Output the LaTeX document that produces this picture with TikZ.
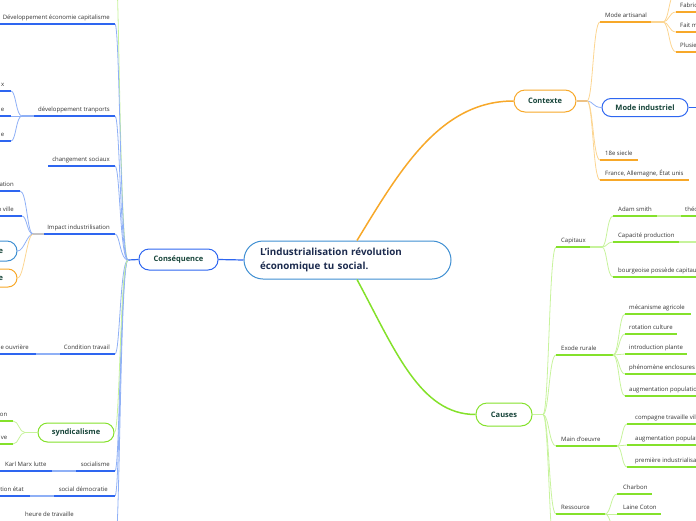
\documentclass[tikz,border=0pt]{standalone}
\usepackage{fontspec}
\setmainfont{Open Sans}
\usetikzlibrary{calc}
\definecolor{blueD}{HTML}{2E66F0}
\definecolor{blueL}{HTML}{8FB0F6}
\definecolor{blueC}{HTML}{3F8FD2}
\definecolor{oraD}{HTML}{F7A829}
\definecolor{oraL}{HTML}{FCD591}
\definecolor{greD}{HTML}{84E12B}
\definecolor{greL}{HTML}{C7F39C}
\definecolor{txt}{HTML}{333333}
\definecolor{ntext}{HTML}{17453A}
\definecolor{rtext}{HTML}{1C2B4E}
\tikzset{
 leaf/.style={font=\fontsize{6}{7}\selectfont, text=txt, inner sep=0pt},
 mnode/.style={draw=#1, line width=1pt, fill=white, font=\bfseries\fontsize{7.5}{9}\selectfont, text=ntext, inner sep=0pt},
 ulB/.style={draw=blueD, line width=1.6pt},
 ulO/.style={draw=oraD, line width=1.6pt},
 ulG/.style={draw=greD, line width=1.6pt},
 cB/.style={draw=blueL, line width=0.8pt},
 cO/.style={draw=oraL, line width=0.8pt},
 cG/.style={draw=greL, line width=0.8pt},
 lB/.style={draw=blueL, line width=1.2pt},
 lO/.style={draw=oraL, line width=1.2pt},
 lG/.style={draw=greL, line width=1.2pt},
}
\begin{document}
\begin{tikzpicture}[x=1pt,y=-1pt]
\useasboundingbox (0,0) rectangle (696,520);
\clip (0,0) rectangle (696,520);

% ---------- main nodes ----------
\node[draw=blueC, line width=1pt, fill=white, rounded corners=19pt, text width=175pt, align=left,
      inner xsep=16pt, inner ysep=0pt, minimum height=38pt, text=rtext,
      font=\bfseries\fontsize{9.8}{14.5}\selectfont] (root) at (347.5,260) {L'industrialisation révolution\\économique tu social.};
\node[mnode=blueD, rounded corners=10pt, minimum width=79pt, minimum height=21pt] (cons) at (178.5,259.5) {Conséquence};
\node[mnode=oraD, rounded corners=11pt, minimum width=62pt, minimum height=22pt] (ctx) at (545,101) {Contexte};
\node[mnode=greD, rounded corners=11pt, minimum width=56pt, minimum height=23pt] (cau) at (504,414.5) {Causes};

% main connectors
\draw[draw=oraD, line width=1.5pt] ($(root.north)+(9.5,0)$) .. controls (400,170) and (440,101) .. (ctx.west);
\draw[draw=greD, line width=1.5pt] ($(root.south)+(9.5,0)$) .. controls (395,350) and (420,414.5) .. (cau.west);
\draw[draw=blueD, line width=1.2pt] (root.west) -- (cons.east);

% ---------- Conséquence side ----------
\coordinate (jc) at (128,260);
\draw[draw=blueD, line width=1.2pt] (cons.west) -- (jc);
\coordinate (c1) at (115,24);
\coordinate (c2) at (115,116);
\coordinate (c3) at (115,166);
\coordinate (c4) at (115,234);
\coordinate (c5) at (115,354);
\coordinate (c7) at (115,471);
\coordinate (c8) at (115,496);
\coordinate (c9) at (115,548);
\coordinate (c0) at (116,-30);
\node[mnode=greD, rounded corners=9.5pt, minimum width=76pt, minimum height=19pt] (synd) at (76,432.5) {syndicalisme};

\draw[cG] (jc) .. controls (120,260) and (119,-30) .. (c0);
\foreach \c/\y in {c1/24,c2/116,c3/166,c4/234,c5/354,c7/471,c8/496,c9/548}
  \draw[cB] (jc) .. controls (120,260) and (120,\y) .. (\c);
\draw[cG] (jc) .. controls (120,260) and (120,432.5) .. (synd.east);

% Développement économie capitalisme
\draw[ulB] (-5,24) -- (c1);
\node[leaf, anchor=base east] (t1) at (110,19.5) {Développement économie capitalisme};

% développement tranports
\coordinate (j2) at (22,116);
\draw[ulB] (34,116) -- (c2);
\draw[lB] (j2) -- (34,116);
\node[leaf, anchor=base east] (t2) at (110,111.5) {développement tranports};
\coordinate (s21) at (11,91);
\coordinate (s22) at (11,116);
\coordinate (s23) at (11,141);
\draw[cB] (j2) .. controls (16,116) and (16,91) .. (s21);
\draw[cB] (j2) -- (s22);
\draw[cB] (j2) .. controls (16,116) and (16,141) .. (s23);
\draw[ulB] (-5,91) -- (s21);
\draw[ulB] (-5,116) -- (s22);
\draw[ulB] (-5,141) -- (s23);
\node[leaf, anchor=base east] (t21) at (4.5,86.5) {x};
\node[leaf, anchor=base east] (t22) at (4.5,111.5) {e};
\node[leaf, anchor=base east] (t23) at (4.5,136.5) {e};

% changement sociaux
\draw[ulB] (48,166) -- (c3);
\node[leaf, anchor=base east] (t3) at (110,161.5) {changement sociaux};

% Impact industrilisation
\coordinate (j4) at (33,234);
\draw[ulB] (44,234) -- (c4);
\draw[draw=blueL!50!oraL, line width=1.2pt] (j4) -- (44,234);
\node[leaf, anchor=base east] (t4) at (110,229.5) {Impact industrilisation};
\coordinate (s41) at (20,191);
\coordinate (s42) at (22,216);
\node[draw=blueC, line width=1pt, fill=white, rounded corners=10pt, text width=40pt, align=right,
      inner xsep=14pt, inner ysep=0pt, minimum height=20pt, text=ntext,
      font=\bfseries\fontsize{7.5}{9}\selectfont] (s43) at (-17,251) {e};
\node[draw=oraD, line width=1pt, fill=white, rounded corners=9pt, text width=40pt, align=right,
      inner xsep=14pt, inner ysep=0pt, minimum height=18pt, text=ntext,
      font=\bfseries\fontsize{7.5}{9}\selectfont] (s44) at (-17,278) {e};
\draw[cB] (j4) .. controls (27,234) and (27,191) .. (s41);
\draw[cB] (j4) .. controls (27,234) and (27,216) .. (s42);
\draw[cB] (j4) .. controls (27,234) and (24,251) .. (s43.east);
\draw[cO] (j4) .. controls (27,234) and (24,278) .. (s44.east);
\draw[ulB] (-5,191) -- (s41);
\draw[ulB] (-5,216) -- (s42);
\node[leaf, anchor=base east] (t41) at (14,186.5) {ation};
\node[leaf, anchor=base east] (t42) at (14,211.5) {n ville};

% Condition travail
\draw[ulB] (60,354) -- (c5);
\draw[lB] (36,354) -- (60,354);
\draw[ulB] (-5,354) -- (36,354);
\node[leaf, anchor=base east] (t5) at (110,349.5) {Condition travail};
\node[leaf, anchor=base east] (t51) at (29,349.5) {e ouvrière};

% syndicalisme
\coordinate (j6) at (25,432.5);
\draw[lG] (synd.west) -- (j6);
\coordinate (s61) at (13,421);
\coordinate (s62) at (13,444);
\draw[cG] (j6) .. controls (19,432.5) and (19,421) .. (s61);
\draw[cG] (j6) .. controls (19,432.5) and (19,444) .. (s62);
\draw[ulG] (-5,421) -- (s61);
\draw[ulG] (-5,444) -- (s62);
\node[leaf, anchor=base east] (t61) at (7.5,416.5) {on};
\node[leaf, anchor=base east] (t62) at (7.5,439.5) {ve};

% socialisme
\draw[ulB] (76,471) -- (c7);
\draw[lB] (52,471) -- (76,471);
\draw[ulB] (-5,471) -- (52,471);
\node[leaf, anchor=base east] (t7) at (110,466.5) {socialisme};
\node[leaf, anchor=base west] (t71) at (5,466.5) {Karl Marx lutte};

% social démocratie
\draw[ulB] (54,496) -- (c8);
\draw[lB] (30,496) -- (54,496);
\draw[ulB] (-5,496) -- (30,496);
\node[leaf, anchor=base east] (t8) at (108,491.5) {social démocratie};
\node[leaf, anchor=base east] (t81) at (24,491.5) {tion état};

% heure de travaille
\node[leaf, anchor=base west] (t9) at (25,516) {heure de travaille};

% ---------- Contexte side ----------
\coordinate (jx) at (587,101);
\draw[draw=oraD!60!brown!60!white, line width=1.2pt] (ctx.east) -- (jx);
\node[mnode=blueD, rounded corners=9pt, minimum width=86pt, minimum height=18pt] (mind) at (645,107.5) {Mode industriel};
\coordinate (x1) at (600,22);
\coordinate (x3) at (600,160);
\coordinate (x4) at (600,180);
\draw[cO] (jx) .. controls (593,101) and (593,22) .. (x1);
\draw[cB] (jx) .. controls (593,101) and (593,107.5) .. (mind.west);
\draw[cO] (jx) .. controls (593,101) and (593,160) .. (x3);
\draw[cO] (jx) .. controls (593,101) and (593,180) .. (x4);
\draw[draw=blueD, line width=1pt] (mind.east) -- (700,107.5);

% Mode artisanal
\coordinate (jx1) at (663,22);
\draw[ulO] (x1) -- (651,22);
\draw[lO] (651,22) -- (jx1);
\node[leaf, anchor=base west] (u1) at (605,17.5) {Mode artisanal};
\foreach \y in {-8,12,32,52}
  \draw[cO] (jx1) .. controls (669,22) and (669,\y) .. (676,\y);
\foreach \y in {12,32,52}
  \draw[ulO] (676,\y) -- (700,\y);
\node[leaf, anchor=base west] (u11) at (680,7.5) {Fabric};
\node[leaf, anchor=base west] (u12) at (680,27.5) {Fait m};
\node[leaf, anchor=base west] (u13) at (680,47.5) {Plusie};

% 18e siecle, France...
\draw[ulO] (x3) -- (638,160);
\node[leaf, anchor=base west] (u3) at (605,155.5) {18e siecle};
\draw[ulO] (x4) -- (689,180);
\node[leaf, anchor=base west] (u4) at (605,175.5) {France, Allemagne, État unis};

% ---------- Causes side ----------
\coordinate (jca) at (543,414.5);
\draw[lG] (cau.east) -- (jca);
\foreach \y in {247,355,446,514,560}
  \draw[cG] (jca) .. controls (549,414.5) and (549,\y) .. (556,\y);

% Capitaux
\coordinate (jk) at (602,247);
\draw[ulG] (556,247) -- (590,247);
\draw[lG] (590,247) -- (jk);
\node[leaf, anchor=base west] (k0) at (561,242.5) {Capitaux};
\foreach \y in {216,242,277}
  \draw[cG] (jk) .. controls (607,247) and (607,\y) .. (613,\y);
\draw[ulG] (613,216) -- (657,216);
\draw[lG] (657,216) -- (681,216);
\draw[ulG] (681,216) -- (700,216);
\node[leaf, anchor=base west] (k1) at (618,211.5) {Adam smith};
\node[leaf, anchor=base west] (k11) at (685,211.5) {théo};
\draw[ulG] (613,242) -- (679,242);
\draw[lG] (679,242) -- (700,242);
\node[leaf, anchor=base west] (k2) at (618,237.5) {Capacité production};
\draw[ulG] (613,277) -- (700,277);
\node[leaf, anchor=base west] (k3) at (618,272.5) {bourgeoise possède capitaux};

% Exode rurale
\coordinate (je) at (613,355);
\draw[ulG] (556,355) -- (je);
\node[leaf, anchor=base west] (e0) at (561,350.5) {Exode rurale};
\foreach \y in {314,334,354,374,396}
  \draw[cG] (je) .. controls (619,355) and (619,\y) .. (625,\y);
\draw[ulG] (625,314) -- (691,314);
\draw[ulG] (625,334) -- (677,334);
\draw[ulG] (625,354) -- (687,354);
\draw[ulG] (625,374) -- (700,374);
\draw[ulG] (625,396) -- (700,396);
\node[leaf, anchor=base west] (e1) at (629,309.5) {mécanisme agricole};
\node[leaf, anchor=base west] (e2) at (629,329.5) {rotation culture};
\node[leaf, anchor=base west] (e3) at (629,349.5) {introduction plante};
\node[leaf, anchor=base west] (e4) at (629,369.5) {phénomène enclosures};
\node[leaf, anchor=base west] (e5) at (629,391.5) {augmentation population};

% Main d'oeuvre
\coordinate (jm) at (617,446);
\draw[ulG] (556,446) -- (jm);
\node[leaf, anchor=base west] (m0) at (561,441.5) {Main d'oeuvre};
\foreach \y in {424,445,467}
  \draw[cG] (jm) .. controls (622,446) and (622,\y) .. (627,\y);
\foreach \y in {424,445,467}
  \draw[ulG] (627,\y) -- (700,\y);
\node[leaf, anchor=base west] (m1) at (635,419.5) {compagne travaille ville};
\node[leaf, anchor=base west] (m2) at (635,440.5) {augmentation population};
\node[leaf, anchor=base west] (m3) at (635,462.5) {première industrialisation};

% Ressource
\coordinate (jr) at (605,514);
\draw[ulG] (556,514) -- (jr);
\node[leaf, anchor=base west] (r0) at (561,509.5) {Ressource};
\foreach \y in {494,514,534}
  \draw[cG] (jr) .. controls (611,514) and (611,\y) .. (617,\y);
\draw[ulG] (617,494) -- (652,494);
\draw[ulG] (617,514) -- (661,514);
\node[leaf, anchor=base west] (r1) at (623,489.5) {Charbon};
\node[leaf, anchor=base west] (r2) at (623,509.5) {Laine Coton};

\end{tikzpicture}
\end{document}
